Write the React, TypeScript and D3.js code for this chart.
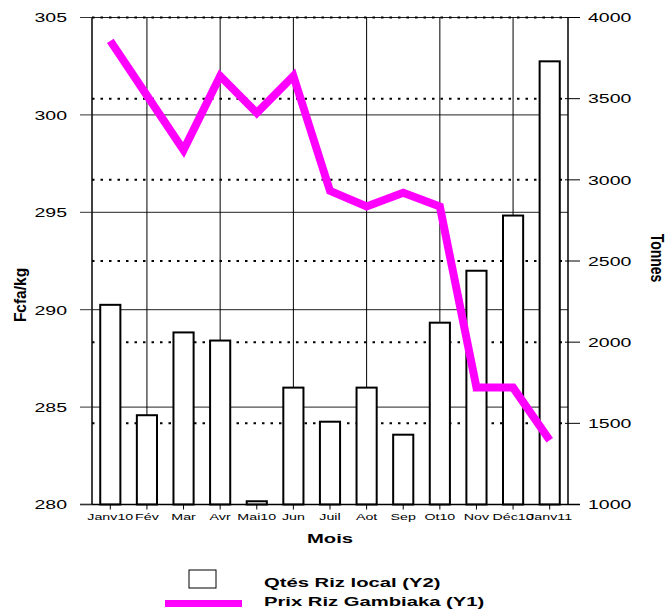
import React from "react";
import * as d3 from "d3";

const months = ["Janv10", "Fév", "Mar", "Avr", "Mai10", "Jun", "Juil", "Aot", "Sep", "Ot10", "Nov", "Déc10", "Janv11"];
const qtesRizLocal = [2230, 1550, 2060, 2010, 1020, 1720, 1510, 1720, 1430, 2120, 2440, 2780, 3730];
const prixRizGambiaka = [303.8, 301, 298.2, 302, 300.1, 302, 296.1, 295.3, 296, 295.3, 286, 286, 283.3];
const leftTicks = [280, 285, 290, 295, 300, 305];
const rightTicks = [1000, 1500, 2000, 2500, 3000, 3500, 4000];
const verticalGridMonths = ["Fév", "Avr", "Jun", "Aot", "Ot10", "Déc10"];
const seriesNames = ["Qtés Riz local (Y2)", "Prix Riz Gambiaka (Y1)"];

const W = 670, H = 609;
const L = 92, R = 568, T = 17.5, B = 504.5;
const SX = 1.5;
const FONT = "Arial, 'Liberation Sans', sans-serif";

function SText({ x, y, anchor = "start", size, bold = false, rotate = 0, sx = SX, children }: any) {
  return (
    <text
      transform={`translate(${x},${y}) scale(${sx},1) rotate(${rotate})`}
      textAnchor={anchor}
      fontSize={size}
      fontFamily={FONT}
      fontWeight={bold ? "bold" : "normal"}
      fill="#000"
    >
      {children}
    </text>
  );
}

export default function App() {
  const x = d3.scaleBand<string>().domain(months).range([L, R]).paddingInner(0.45).paddingOuter(0.225);
  const yL = d3.scaleLinear().domain([280, 305]).range([B, T]);
  const yR = d3.scaleLinear().domain([1000, 4000]).range([B, T]);
  const cx = (m: string) => (x(m) as number) + x.bandwidth() / 2;

  const line = d3
    .line<number>()
    .x((_, i) => cx(months[i]))
    .y((d) => yL(d));

  return (
    <svg width={W} height={H} style={{ position: "absolute", left: 0, top: 0, background: "#fff" }}>
      <rect x={0} y={0} width={W} height={H} fill="#fff" />
      {/* solid horizontal grid (left axis) */}
      {leftTicks.map((t) => (
        <line key={"hl" + t} x1={L} x2={R} y1={yL(t)} y2={yL(t)} stroke="#222" strokeWidth={1} />
      ))}
      {/* dotted horizontal grid (right axis) */}
      {rightTicks.filter((t) => t > 1000).map((t) => (
        <line key={"hr" + t} x1={L} x2={R} y1={yR(t)} y2={yR(t)} stroke="#000" strokeWidth={2} strokeDasharray="2.5,6" />
      ))}
      {/* vertical grid */}
      {verticalGridMonths.map((m) => (
        <line key={"v" + m} x1={cx(m)} x2={cx(m)} y1={T} y2={B} stroke="#000" strokeWidth={1} />
      ))}
      {/* bars */}
      {qtesRizLocal.map((v, i) => (
        <rect
          key={"b" + i}
          x={x(months[i])}
          y={yR(v)}
          width={x.bandwidth()}
          height={B - yR(v)}
          fill="#fff"
          stroke="#000"
          strokeWidth={2}
        />
      ))}
      {/* axes */}
      <line x1={L} x2={L} y1={T} y2={B} stroke="#000" strokeWidth={1.5} />
      <line x1={R} x2={R} y1={T} y2={B} stroke="#000" strokeWidth={1.5} />
      <line x1={L - 12} x2={R + 12} y1={B} y2={B} stroke="#000" strokeWidth={1.5} />
      {leftTicks.map((t) => (
        <g key={"lt" + t}>
          <line x1={L - 12} x2={L} y1={yL(t)} y2={yL(t)} stroke="#333" strokeWidth={1} />
          <SText x={67} y={yL(t) + 4.8} anchor="end" size={13}>{t}</SText>
        </g>
      ))}
      {rightTicks.map((t) => (
        <g key={"rt" + t}>
          <line x1={R - 3} x2={R + 12} y1={yR(t)} y2={yR(t)} stroke="#000" strokeWidth={1} />
          <SText x={588} y={yR(t) + 4.8} anchor="start" size={13}>{t}</SText>
        </g>
      ))}
      {months.map((m) => (
        <g key={"xt" + m}>
          <line x1={cx(m)} x2={cx(m)} y1={B} y2={B + 5} stroke="#000" strokeWidth={1} />
          <SText x={cx(m)} y={520} anchor="middle" size={9.5}>{m}</SText>
        </g>
      ))}
      {/* price line */}
      <path d={line(prixRizGambiaka) || ""} fill="none" stroke="#FF00FF" strokeWidth={8} strokeLinejoin="miter" strokeLinecap="butt" />
      {/* axis titles */}
      <SText x={543 - 543 + (L + R) / 2} y={543} anchor="middle" size={13.5} bold>Mois</SText>
      <SText x={25.5} y={295} anchor="middle" size={15.5} bold sx={1.1} rotate={-90}>Fcfa/kg</SText>
      <SText x={651} y={258} anchor="middle" size={14} bold sx={1.35} rotate={90}>Tonnes</SText>
      {/* legend */}
      <rect x={189} y={570} width={27} height={18} fill="#fff" stroke="#000" strokeWidth={1} />
      <line x1={165} x2={242} y1={603.5} y2={603.5} stroke="#FF00FF" strokeWidth={7} />
      <SText x={264} y={587} size={13.5} bold>{seriesNames[0]}</SText>
      <SText x={264} y={606} size={13.5} bold>{seriesNames[1]}</SText>
    </svg>
  );
}
